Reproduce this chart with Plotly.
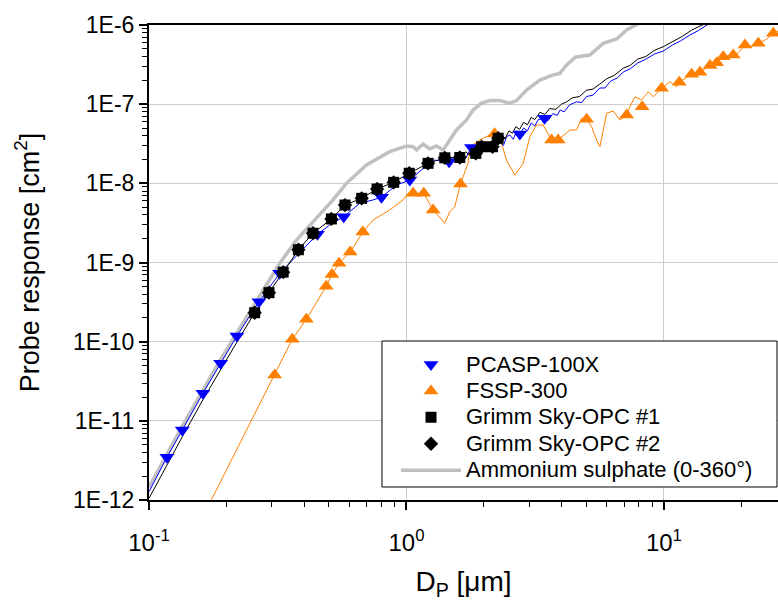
import plotly.graph_objects as go

# ---------------- data (D in µm, probe response in cm^2) ----------------
pcasp_d = [0.1174, 0.1347, 0.1620, 0.1898, 0.2196, 0.2674, 0.3219, 0.4509, 0.5705, 0.7995,
           1.030, 1.464, 1.789, 2.756, 3.439]
pcasp_s = [3.47e-12, 7.66e-12, 2.23e-11, 5.33e-11, 1.18e-10, 3.20e-10, 7.31e-10, 2.27e-9, 3.79e-9, 6.67e-9,
           1.10e-8, 1.88e-8, 2.84e-8, 4.20e-8, 6.63e-8]

pcasp_curve_d = [0.1, 0.1174, 0.1347, 0.1620, 0.1898, 0.2196, 0.2674, 0.3219,
                 0.4509, 0.5033, 0.5705, 0.6585, 0.7417, 0.7995, 0.9143, 1.030,
                 1.265, 1.464, 1.711, 1.789, 2.046, 2.30,
                 2.38, 2.45, 2.52, 2.60, 2.68, 2.76, 2.85, 2.95, 3.05, 3.15, 3.25,
                 3.44, 3.55, 3.70, 3.85, 3.95, 4.10, 4.30, 4.58, 4.80, 5.00,
                 5.30, 5.64, 5.90, 6.20, 6.60, 6.95, 7.40, 7.90, 8.50, 9.20,
                 9.94, 10.8, 11.6, 12.62, 13.6, 14.69, 16.0, 18.0]
pcasp_curve_s = [1.27e-12, 3.47e-12, 7.66e-12, 2.23e-11, 5.33e-11, 1.18e-10, 3.20e-10, 7.31e-10,
                 2.27e-9, 2.98e-9, 3.79e-9, 5.60e-9, 6.17e-9, 6.67e-9, 9.53e-9, 1.10e-8,
                 1.97e-8, 1.88e-8, 2.17e-8, 2.84e-8, 2.51e-8, 3.36e-8,
                 3.0e-8, 3.9e-8, 4.08e-8, 3.6e-8, 4.6e-8, 4.2e-8, 5.0e-8, 4.6e-8, 5.8e-8, 5.3e-8, 6.4e-8,
                 6.63e-8, 6.2e-8, 7.6e-8, 7.2e-8, 8.44e-8, 8.0e-8, 9.8e-8, 1.07e-7, 1.05e-7, 1.25e-7,
                 1.30e-7, 1.60e-7, 1.6e-7, 1.95e-7, 2.15e-7, 2.55e-7, 2.8e-7, 3.3e-7, 3.7e-7, 4.3e-7,
                 4.69e-7, 5.6e-7, 6.3e-7, 7.48e-7, 8.5e-7, 1.0e-6, 1.15e-6, 1.38e-6]

fssp_d = [0.3076, 0.3599, 0.4087, 0.4879, 0.5134, 0.547, 0.6047, 0.6764, 1.061, 1.167,
          1.269, 1.621, 2.198, 3.661, 3.884, 5.008, 7.164, 8.228, 9.795, 11.47,
          12.81, 13.80, 15.10, 16.03, 17.00, 18.59, 20.64, 23.26, 26.60]
fssp_s = [3.79e-11, 1.07e-10, 1.92e-10, 5.02e-10, 7.04e-10, 9.77e-10, 1.36e-9, 2.42e-9, 7.48e-9, 7.48e-9,
          4.61e-9, 9.82e-9, 4.24e-8, 3.53e-8, 3.53e-8, 6.44e-8, 7.30e-8, 9.29e-8, 1.59e-7, 1.89e-7,
          2.39e-7, 2.53e-7, 3.08e-7, 3.34e-7, 3.98e-7, 4.18e-7, 5.59e-7, 5.87e-7, 7.86e-7]

fssp_curve_d = [0.1746, 0.3076, 0.3599, 0.4087, 0.4879, 0.5134, 0.547, 0.6047, 0.6764, 0.7417,
                0.861, 0.970, 1.0144, 1.061, 1.167, 1.269, 1.409, 1.473, 1.540, 1.621,
                1.735, 1.762, 1.927, 2.108, 2.198, 2.305, 2.447, 2.636, 2.840, 3.015,
                3.201, 3.396, 3.501, 3.661, 3.884, 4.313, 4.578, 4.787, 5.008, 5.236,
                5.475, 5.64, 5.988, 6.353, 6.745, 7.164, 7.378, 7.715, 8.19, 8.69,
                9.09, 9.795, 10.55, 11.2, 11.47, 12.2, 12.81, 13.80, 14.4, 15.10,
                16.03, 17.00, 18.59, 19.5, 20.64, 22.0, 23.26, 25.0, 26.60, 28.0]
fssp_curve_s = [1e-12, 3.79e-11, 1.07e-10, 1.92e-10, 5.02e-10, 7.04e-10, 9.77e-10, 1.36e-9, 2.42e-9, 3.44e-9,
                4.61e-9, 6.17e-9, 7.48e-9, 7.48e-9, 7.48e-9, 4.61e-9, 3.13e-9, 4.38e-9, 5.07e-9, 9.82e-9,
                1.79e-8, 2.90e-8, 3.53e-8, 4.08e-8, 4.24e-8, 3.71e-8, 1.97e-8, 1.27e-8, 1.79e-8, 3.88e-8,
                5.46e-8, 5.46e-8, 4.49e-8, 3.53e-8, 3.53e-8, 4.72e-8, 4.72e-8, 6.63e-8, 6.44e-8, 5.19e-8,
                3.53e-8, 2.90e-8, 7.67e-8, 8.2e-8, 6.31e-8, 7.30e-8, 9.29e-8, 1.24e-7, 1.13e-7, 1.44e-7,
                1.24e-7, 1.59e-7, 1.92e-7, 1.66e-7, 1.89e-7, 2.15e-7, 2.39e-7, 2.53e-7, 2.75e-7, 3.08e-7,
                3.34e-7, 3.98e-7, 4.18e-7, 4.5e-7, 5.59e-7, 5.4e-7, 5.87e-7, 6.6e-7, 7.86e-7, 8.5e-7]

grimm1_d = [0.2573, 0.2924, 0.332, 0.3804, 0.4335, 0.511, 0.577, 0.670, 0.769, 0.892,
            1.025, 1.213, 1.409, 1.611, 1.859, 1.957, 2.159, 2.27]
grimm1_s = [2.32e-10, 4.16e-10, 7.55e-10, 1.45e-9, 2.34e-9, 3.55e-9, 5.32e-9, 6.47e-9, 8.48e-9, 1.03e-8,
            1.34e-8, 1.79e-8, 2.10e-8, 2.12e-8, 2.39e-8, 2.90e-8, 2.90e-8, 3.71e-8]
grimm2_d = [0.2573, 0.2924, 0.332, 0.3804, 0.4335, 0.511, 0.577, 0.670, 0.769, 0.892,
            1.025, 1.213, 1.409, 1.611, 1.859, 1.957, 2.159, 2.27]
grimm2_s = [2.32e-10, 4.16e-10, 7.55e-10, 1.45e-9, 2.34e-9, 3.55e-9, 5.32e-9, 6.47e-9, 8.48e-9, 1.03e-8,
            1.34e-8, 1.79e-8, 2.10e-8, 2.12e-8, 2.39e-8, 2.90e-8, 2.90e-8, 3.71e-8]

grimm_curve_d = [0.1, 0.1174, 0.1347, 0.162, 0.19, 0.22,
                 0.2573, 0.2924, 0.332, 0.3804, 0.4335, 0.511, 0.577, 0.670, 0.769, 0.892,
                 1.025, 1.213, 1.409, 1.611, 1.70, 1.78, 1.859, 1.957, 2.06, 2.159,
                 2.27, 2.35, 2.42, 2.50, 2.58, 2.66, 2.75, 2.85, 2.95, 3.05,
                 3.15, 3.30, 3.45, 3.60, 3.80, 4.00, 4.19, 4.40, 4.70, 5.00,
                 5.30, 5.64, 6.00, 6.40, 6.95, 7.40, 7.90, 8.50, 9.20, 9.94,
                 10.8, 11.8, 12.8, 13.8, 15.0, 17.0]
grimm_curve_s = [1.05e-12, 2.8e-12, 6.3e-12, 1.85e-11, 4.5e-11, 1.0e-10,
                 2.32e-10, 4.16e-10, 7.55e-10, 1.45e-9, 2.34e-9, 3.55e-9, 5.32e-9, 6.47e-9, 8.48e-9, 1.03e-8,
                 1.34e-8, 1.79e-8, 2.10e-8, 2.12e-8, 2.5e-8, 2.2e-8, 2.39e-8, 2.90e-8, 2.6e-8, 2.90e-8,
                 3.71e-8, 4.1e-8, 3.7e-8, 4.6e-8, 4.3e-8, 5.2e-8, 4.8e-8, 5.9e-8, 5.5e-8, 6.8e-8,
                 6.4e-8, 7.9e-8, 7.4e-8, 8.8e-8, 8.6e-8, 1.0e-7, 1.07e-7, 1.2e-7, 1.25e-7, 1.5e-7,
                 1.55e-7, 1.80e-7, 2.1e-7, 2.3e-7, 2.84e-7, 3.1e-7, 3.7e-7, 4.0e-7, 4.8e-7, 5.32e-7,
                 6.2e-7, 7.2e-7, 8.6e-7, 9.7e-7, 1.12e-6, 1.35e-6]

as_d = [0.1, 0.1347, 0.19, 0.2674, 0.3219, 0.3737, 0.4603, 0.5184, 0.5845, 0.6991,
        0.861, 1.0, 1.061, 1.094, 1.160, 1.232, 1.308, 1.388, 1.473, 1.564,
        1.711, 1.815, 1.957, 2.108, 2.305, 2.52, 2.676, 2.927, 3.297, 3.713,
        3.943, 4.186, 4.549, 5.157, 5.808, 6.551, 7.164, 7.598, 8.44]
as_s = [1.45e-12, 8.6e-12, 6.0e-11, 3.7e-10, 9.77e-10, 1.92e-9, 3.98e-9, 6.17e-9, 1.0e-8, 1.71e-8,
        2.51e-8, 2.96e-8, 2.90e-8, 2.64e-8, 3.14e-8, 2.72e-8, 2.96e-8, 2.64e-8, 3.53e-8, 4.72e-8,
        6.31e-8, 8.44e-8, 1.03e-7, 1.11e-7, 1.11e-7, 1.03e-7, 1.11e-7, 1.51e-7, 2.02e-7, 2.34e-7,
        2.45e-7, 3.13e-7, 3.94e-7, 4.18e-7, 5.87e-7, 6.66e-7, 8.65e-7, 9.52e-7, 1.16e-6]

x_tickvals = [0.1, 1, 10]
x_ticktext = ["10<sup>-1</sup>", "10<sup>0</sup>", "10<sup>1</sup>"]
y_tickvals = [1e-12, 1e-11, 1e-10, 1e-9, 1e-8, 1e-7, 1e-6]
y_ticktext = ["1E-12", "1E-11", "1E-10", "1E-9", "1E-8", "1E-7", "1E-6"]

BLUE = "#0000ff"
ORANGE = "#ff8000"
GRAY = "#c0c0c0"
FONT = "Liberation Sans"


def lg(txt):
    # legend label drawn at 22 px while legend row spacing follows the 18 px legend font
    return '<span style="font-size:22px">' + txt + '</span>'


fig = go.Figure()

# lines (no legend)
fig.add_trace(go.Scatter(x=as_d, y=as_s, mode="lines", line=dict(color=GRAY, width=3.5),
                         name=lg("Ammonium sulphate (0-360°)"), legendrank=5))
fig.add_trace(go.Scatter(x=fssp_curve_d, y=fssp_curve_s, mode="lines", line=dict(color=ORANGE, width=1),
                         showlegend=False, hoverinfo="skip"))
fig.add_trace(go.Scatter(x=pcasp_curve_d, y=pcasp_curve_s, mode="lines", line=dict(color=BLUE, width=1),
                         showlegend=False, hoverinfo="skip"))
fig.add_trace(go.Scatter(x=grimm_curve_d, y=grimm_curve_s, mode="lines", line=dict(color="black", width=1),
                         showlegend=False, hoverinfo="skip"))
# markers
fig.add_trace(go.Scatter(x=fssp_d, y=fssp_s, mode="markers", name=lg("FSSP-300"), legendrank=2,
                         marker=dict(symbol="triangle-up", size=13, color=ORANGE, line=dict(width=0))))
fig.add_trace(go.Scatter(x=pcasp_d, y=pcasp_s, mode="markers", name=lg("PCASP-100X"), legendrank=1,
                         marker=dict(symbol="triangle-down", size=13, color=BLUE, line=dict(width=0))))
fig.add_trace(go.Scatter(x=grimm1_d, y=grimm1_s, mode="markers", name=lg("Grimm Sky-OPC #1"), legendrank=3,
                         marker=dict(symbol="square", size=11, color="black", line=dict(width=0))))
fig.add_trace(go.Scatter(x=grimm2_d, y=grimm2_s, mode="markers", name=lg("Grimm Sky-OPC #2"), legendrank=4,
                         marker=dict(symbol="diamond", size=11, color="black", line=dict(width=0))))

fig.update_layout(
    width=778, height=601, autosize=False,
    margin=dict(l=149, r=0, t=25, b=101),
    plot_bgcolor="white", paper_bgcolor="white",
    font=dict(family=FONT, size=23, color="black"),
    showlegend=True,
    legend=dict(x=0.3927, y=0.3235, xanchor="left", yanchor="top",
                bgcolor="rgba(0,0,0,0)", borderwidth=0,
                font=dict(family=FONT, size=18, color="black"),
                itemwidth=60, tracegroupgap=0),
    shapes=[dict(type="rect", xref="paper", yref="paper",
                 x0=0.3704, x1=0.9984, y0=0.0274, y1=0.3347,
                 line=dict(color="black", width=1), fillcolor="white", layer="above")],
    xaxis=dict(type="log", range=[-1, 1.443],
               tickvals=x_tickvals, ticktext=x_ticktext,
               ticks="outside", ticklen=8, tickwidth=1.5, tickcolor="black",
               ticklabelstandoff=12,
               showline=True, linecolor="black", linewidth=2, mirror=True,
               showgrid=True, gridcolor="#cccccc", gridwidth=1.3, zeroline=False,
               tickfont=dict(family=FONT, size=24),
               minor=dict(ticks="outside", ticklen=5, tickwidth=1.2, tickcolor="black", showgrid=False,
                          tickvals=[m * 10.0 ** e for e in (-1, 0, 1) for m in range(2, 10)]),
               title=dict(text="D<sub>P</sub> [μm]", font=dict(family=FONT, size=28), standoff=19)),
    yaxis=dict(type="log", range=[-12, -6],
               tickvals=y_tickvals, ticktext=y_ticktext,
               ticks="outside", ticklen=8, tickwidth=1.5, tickcolor="black",
               showline=True, linecolor="black", linewidth=2, mirror=False,
               showgrid=True, gridcolor="#cccccc", gridwidth=1.3, zeroline=False,
               tickfont=dict(family=FONT, size=23),
               minor=dict(ticks="outside", ticklen=5, tickwidth=1.2, tickcolor="black", showgrid=False,
                          tickvals=[m * 10.0 ** e for e in range(-12, -6) for m in range(2, 10)]),
               title=dict(text="Probe response [cm<sup>2</sup>]", font=dict(family=FONT, size=27), standoff=26)),
)

fig.write_html("out.html")
